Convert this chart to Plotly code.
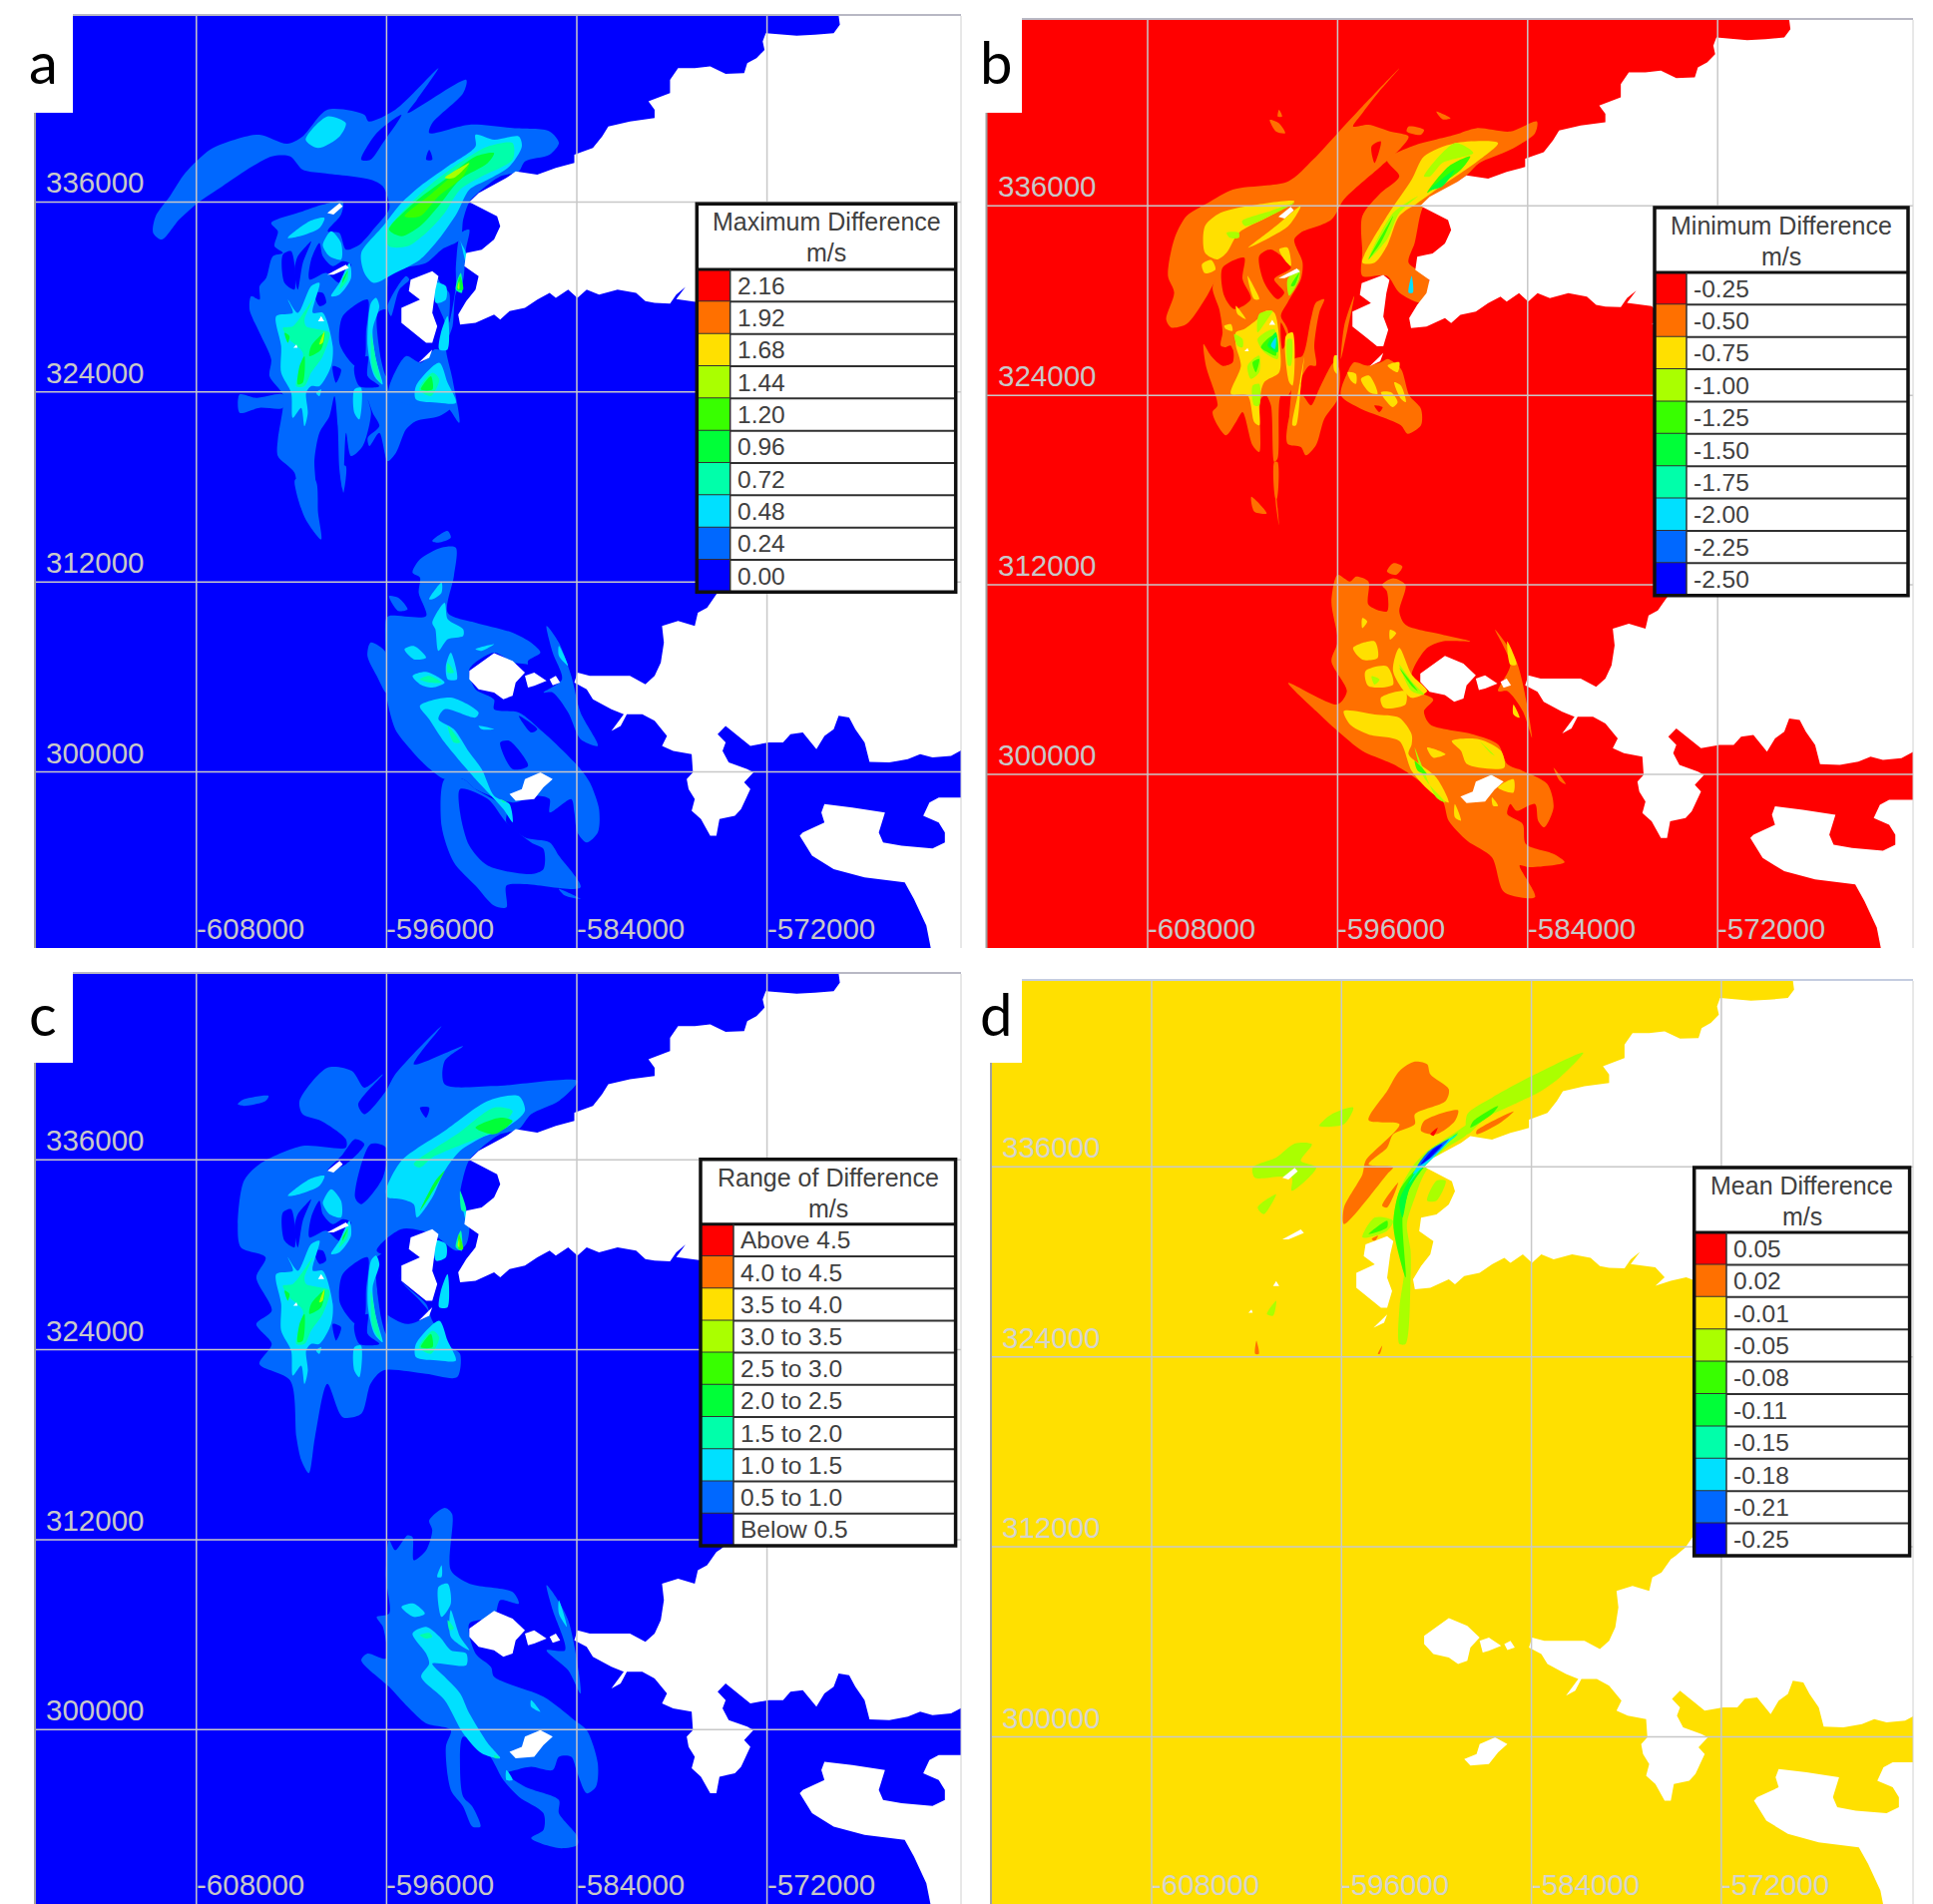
import plotly.graph_objects as go

W, H = 1937, 1908

# ---------------- legend content ----------------
RAMP = ["#ff0000", "#ff7000", "#ffe000", "#aaff00", "#38ff00", "#00ff38", "#00ffaa", "#00e0ff", "#0068ff", "#0000ff"]
LABELS_A = ["2.16", "1.92", "1.68", "1.44", "1.20", "0.96", "0.72", "0.48", "0.24", "0.00"]
LABELS_B = ["-0.25", "-0.50", "-0.75", "-1.00", "-1.25", "-1.50", "-1.75", "-2.00", "-2.25", "-2.50"]
LABELS_C = ["Above 4.5", "4.0 to 4.5", "3.5 to 4.0", "3.0 to 3.5", "2.5 to 3.0", "2.0 to 2.5", "1.5 to 2.0", "1.0 to 1.5", "0.5 to 1.0", "Below 0.5"]
LABELS_D = ["0.05", "0.02", "-0.01", "-0.05", "-0.08", "-0.11", "-0.15", "-0.18", "-0.21", "-0.25"]
EASTINGS = [-608000, -596000, -584000, -572000]
NORTHINGS = [336000, 324000, 312000, 300000]

# ---------------- digitised map outlines (digitiser units, georeferenced below) ----------------
LAND_N = [(1358,0),(1358,47),(1360,75),(1350,100),(1320,105),(1290,108),(1240,100),(1235,125),(1238,150),(1225,175),(1210,190),(1205,220),(1175,222),(1150,200),(1125,205),(1098,205),(1085,240),(1085,280),(1050,305),(1060,330),(1060,355),(1020,365),(985,380),(975,410),(960,445),(930,465),(930,490),(900,505),(870,525),(835,515),(820,535),(800,555),(775,580),(760,607),(785,630),(805,650),(810,680),(800,720),(780,750),(755,760),(752,800),(775,830),(770,870),(755,905),(742,945),(745,975),(770,970),(800,945),(810,960),(825,935),(850,925),(870,900),(890,880),(900,895),(920,870),(935,895),(950,870),(970,885),(1000,870),(1030,880),(1045,905),(1060,910),(1085,912),(1095,885),(1110,862),(1095,899),(1135,909),(1150,939),(1135,964),(1160,949),(1185,939),(1200,949),(1260,960),(1260,1700),(1195,1719),(1184,1749),(1168,1775)]
LAND_S = [(1160,345),(1145,385),(1130,400),(1125,440),(1098,425),(1072,440),(1075,490),(1070,550),(1060,590),(1045,615),(1020,590),(990,590),(955,590),(935,580),(930,610),(950,630),(960,660),(990,690),(1010,705),(990,755),(1005,740),(1015,705),(1040,705),(1060,725),(1080,770),(1072,800),(1090,815),(1120,825),(1122,880),(1112,900),(1115,930),(1125,960),(1120,995),(1135,1020),(1150,1070),(1160,1070),(1165,1020),(1190,1010),(1200,990),(1215,930),(1205,910),(1220,880),(1210,870),(1180,850),(1170,815),(1175,790),(1162,765),(1175,740),(1195,770),(1215,800),(1245,790),(1268,790),(1280,765),(1300,760),(1322,810),(1335,770),(1350,750),(1358,710),(1375,715),(1385,750),(1400,790),(1408,848),(1440,850),(1470,840),(1490,825),(1510,835),(1540,830),(1560,810),(1700,810)]
LAND_E_TOP = [(1700,0)]
LAND_SOUTH = [(1700,955),(1560,955),(1520,955),(1505,970),(1495,1010),(1520,1030),(1530,1060),(1530,1090),(1510,1108),(1460,1100),(1430,1090),(1423,1060),(1433,1000),(1380,985),(1335,975),(1330,1000),(1335,1030),(1300,1060),(1295,1070),(1315,1130),(1350,1170),(1400,1195),(1465,1210),(1480,1260),(1500,1340),(1515,1480),(1700,1480)]
ISLANDS_N = [
    [(700,815),(665,840),(662,875),(680,900),(650,925),(650,970),(670,1000),(690,1030),(700,1030),(708,980),(700,940),(705,870),(710,830)],
    [(678,1090),(700,1050),(695,1075)],
    [(530,640),(550,610),(555,620),(540,645)],
    [(530,825),(560,795),(565,805),(540,825)],
    [(515,965),(520,950),(525,965)],
    [(475,1045),(480,1035),(482,1045)],
]
ISLANDS_S = [
    [(800,522),(760,575),(760,600),(775,630),(800,640),(815,660),(830,650),(835,610),(850,580),(830,545)],
    [(855,625),(850,590),(865,580),(885,605),(865,620)],
    [(895,618),(890,600),(900,590),(907,610)],
    [(875,880),(850,900),(845,930),(825,945),(835,965),(865,960),(880,925),(895,900)],
]

# fine digitising of the western group, panel a (separate digitiser sheet)
A_W_BODY = [
 (1,[(95,70),(190,35),(250,15),(310,5),(305,45),(265,95),(300,100),(320,150),(370,130),(440,70),(445,230),(440,340),(445,560),(450,575),(560,575),(620,575),(650,610),(600,650),(530,665),(500,690),(470,760),(445,785),(420,700),(390,740),(385,715),(420,680),(400,640),(385,600),(395,640),(370,740),(335,770),(320,700),(310,870),(300,810),(295,680),(285,590),(270,650),(240,700),(225,780),(225,900),(180,900),(165,820),(115,770),(115,720),(130,625),(130,585),(90,530),(95,480),(60,400),(30,330),(35,290),(60,300),(60,260),(80,235),(100,170),(130,160),(105,140),(115,95)]),
 (1,[(0,585),(50,595),(130,585),(130,625),(60,625),(0,640)]),
 (1,[(450,560),(500,470),(545,490),(585,450),(610,450),(620,380),(610,350),(590,300),(585,220),(610,260),(630,280),(630,370),(650,260),(650,200),(665,100),(690,90),(680,150),(670,250),(650,280),(640,380),(620,440),(640,540),(660,670),(620,620),(530,620),(450,590)]),
 (1,[(500,230),(445,320),(455,350),(480,270),(510,240)]),
]
W_HOLES = [
 (0,[(130,165),(155,155),(165,270),(135,250)]),
 (0,[(175,170),(200,140),(215,125),(190,190),(175,270),(165,210)]),
 (0,[(215,180),(240,130),(250,170),(280,200),(310,185),(335,195),(300,250),(260,220),(210,240)]),
 (0,[(225,280),(250,280),(260,310),(240,320)]),
 (0,[(310,350),(385,300),(380,400),(375,480),(350,500),(320,470),(300,430)]),
 (0,[(415,340),(440,330),(440,530),(425,480)]),
 (0,[(280,500),(305,510),(290,550)]),
 (0,[(345,500),(385,470),(385,530),(420,560),(360,560)]),
]
W_STREAKS = [
 (2,[(145,115),(210,65),(255,55),(240,85),(180,110)]),
 (2,[(250,135),(275,95),(305,130),(305,180),(270,170),(255,150)]),
 (2,[(110,350),(160,340),(145,300),(175,340),(215,260),(240,250),(220,340),(250,340),(280,440),(275,500),(240,560),(215,560),(200,580),(205,640),(195,680),(185,625),(160,655),(155,580),(125,520),(125,440)]),
 (2,[(395,310),(410,295),(420,320),(400,390),(410,480),(430,555),(405,530),(385,440)]),
 (2,[(345,570),(365,565),(360,660),(345,640)]),
 (2,[(230,580),(245,570),(240,590)]),
 (2,[(300,250),(330,190),(335,235),(300,285),(275,290)]),
 (2,[(530,560),(600,490),(625,550),(650,610),(600,610),(530,600)]),
 (2,[(660,120),(680,160),(680,190),(665,130)]),
 (2,[(590,250),(620,260),(620,300),(590,310)]),
 (2,[(605,400),(625,350),(625,450),(600,450)]),
 (3,[(130,385),(160,380),(220,300),(195,360),(200,380),(240,390),(270,400),(250,470),(215,520),(195,560),(170,560),(190,460),(150,420)]),
 (3,[(540,570),(580,520),(600,540),(575,590)]),
 (3,[(305,250),(325,210),(325,240),(300,270)]),
 (3,[(395,400),(410,480),(425,550),(400,510)]),
 (3,[(655,240),(665,220),(668,280),(650,270)]),
 (4,[(180,500),(195,470),(190,550),(175,555)]),
 (4,[(215,440),(255,400),(245,450),(210,470)]),
 (4,[(135,400),(150,410),(145,430)]),
 (4,[(310,240),(325,215),(310,250)]),
 (4,[(545,570),(575,530),(580,570)]),
 (6,[(240,435),(255,395),(250,430)]),
 (6,[(655,265),(660,245),(660,270)]),
]
# fine digitising of the western group, panel b (separate digitiser sheet)
B_W = [
 (1,[(48,435),(70,470),(105,500),(135,490),(135,450),(100,440),(105,400),(95,330),(75,265),(100,210),(130,180),(175,160),(240,130),(350,90),(320,120),(345,190),(340,240),(300,310),(280,350),(300,390),(315,560),(300,590),(280,590),(270,780),(260,790),(250,620),(235,590),(220,600),(215,760),(195,740),(165,640),(145,670),(115,710),(90,680),(75,640),(90,620),(55,500)]),
 (1,[(310,590),(320,480),(345,470),(370,360),(385,310),(410,300),(395,340),(380,440),(385,500),(365,500),(340,540),(330,600),(305,680)]),
 (1,[(300,680),(330,590),(345,590),(370,620),(395,570),(440,490),(455,510),(450,600),(410,660),(385,740),(355,770),(340,745),(300,735)]),
 (1,[(260,790),(270,790),(268,900),(264,900)]),
 (1,[(460,590),(480,520),(500,490),(540,500),(580,490),(600,480),(640,510),(665,590),(700,630),(700,680),(660,705),(640,680),(570,650),(520,630)]),
 (1,[(460,480),(470,380),(500,290),(480,390)]),
 (0,[(105,205),(170,175),(165,240),(190,300),(140,330),(110,290)]),
 (0,[(215,170),(250,150),(310,205),(260,240),(290,280),(270,300),(230,250)]),
 (0,[(90,465),(130,440),(135,490),(105,500)]),
 (0,[(280,370),(300,420),(285,450)]),
 (0,[(560,620),(585,625),(575,640)]),
 (2,[(145,320),(175,360),(150,345)]),
 (2,[(110,380),(130,375),(135,395),(115,390)]),
 (2,[(180,230),(200,265),(215,300),(200,300)]),
 (2,[(275,150),(300,145),(310,200),(290,180)]),
 (2,[(130,585),(160,500),(145,440),(145,400),(170,390),(210,360),(235,335),(260,340),(275,420),(275,520),(230,550),(215,610),(215,680),(200,670),(180,590)]),
 (2,[(295,410),(315,400),(315,560),(305,550)]),
 (2,[(315,680),(330,590),(350,475),(340,560),(325,680)]),
 (2,[(440,470),(450,470),(450,525),(440,515)]),
 (2,[(480,520),(505,525),(505,555),(490,545)]),
 (2,[(520,540),(545,530),(570,585),(545,580)]),
 (2,[(580,580),(610,580),(630,610),(615,625)]),
 (2,[(620,550),(640,560),(655,610),(640,600)]),
 (2,[(600,500),(635,490),(630,520)]),
 (3,[(140,405),(165,420),(165,445),(150,440)]),
 (3,[(215,345),(255,335),(240,360),(210,400)]),
 (3,[(210,420),(260,390),(270,480),(230,460)]),
 (3,[(180,500),(215,470),(215,520),(190,540)]),
 (3,[(195,560),(215,555),(215,620),(200,620)]),
 (3,[(300,420),(312,420),(310,500),(302,500)]),
 (3,[(300,240),(335,210),(335,240),(305,290)]),
 (4,[(220,445),(255,410),(265,470),(240,460)]),
 (4,[(195,490),(215,480),(205,520)]),
 (4,[(310,260),(335,220),(320,260)]),
 (5,[(240,440),(265,400),(270,460)]),
 (7,[(250,440),(265,415),(262,450)]),
]

# contour patches: (step away from the panel's base colour, outline). Step 0 = base colour holes.
A_N = [
 (1,[(248,700),(252,650),(275,590),(300,520),(340,450),(380,420),(420,405),(465,432),(490,410),(530,330),(590,345),(597,365),(640,330),(710,205),(675,300),(660,340),(755,240),(750,280),(700,370),(695,400),(760,375),(830,385),(890,395),(905,430),(890,465),(850,485),(840,515),(810,530),(780,570),(760,607),(750,660),(745,720),(715,750),(690,790),(640,810),(600,850),(585,830),(575,760),(600,700),(630,630),(630,607),(620,560),(600,540),(520,520),(490,510),(470,470),(440,470),(400,510),(360,560),(320,610),(290,660),(262,720)]),
 (0,[(585,480),(610,400),(650,345),(620,430),(600,480)]),
 (0,[(690,480),(695,450),(700,480)]),
 (1,[(478,1440),(510,1440),(515,1540),(520,1620),(495,1560),(480,1480)]),
 (1,[(552,1400),(560,1400),(556,1480)]),
 (2,[(585,760),(620,680),(650,610),(680,560),(725,500),(770,440),(770,405),(800,420),(840,410),(845,440),(825,500),(790,540),(760,570),(740,640),(710,720),(680,780),(640,820),(605,850),(590,820)]),
 (2,[(495,420),(530,350),(560,370),(550,410),(515,445)]),
 (3,[(625,700),(660,620),(700,550),(760,470),(790,440),(830,430),(830,480),(780,530),(745,570),(720,640),(690,700),(660,740),(630,740)]),
 (4,[(630,690),(670,610),(720,540),(770,470),(800,460),(790,490),(745,540),(710,620),(680,680),(650,710)]),
 (4,[(740,870),(745,830),(750,870)]),
 (5,[(655,650),(700,580),(760,490),(750,530),(710,590),(680,650)]),
 (6,[(720,535),(760,490),(735,535)]),
]
A_S = [
 (1,[(700,185),(725,155),(730,175),(710,190)]),
 (1,[(630,410),(690,410),(678,340),(680,295),(668,280),(680,240),(715,205),(738,205),(735,290),(725,400),(770,430),(830,460),(860,490),(875,520),(855,545),(855,570),(830,550),(800,520),(760,570),(770,630),(800,660),(800,690),(840,700),(880,760),(920,830),(940,870),(955,910),(970,990),(968,1060),(950,1090),(935,1060),(930,1000),(925,960),(890,1000),(890,960),(870,950),(830,970),(770,930),(750,900),(720,900),(690,860),(660,800),(640,750),(625,640),(625,560),(625,420)]),
 (1,[(720,900),(715,1040),(735,1150),(770,1220),(800,1280),(820,1285),(820,1220),(850,1215),(940,1225),(905,1130),(890,1090),(850,1075),(820,1030),(820,990),(770,930),(750,900)]),
 (0,[(745,930),(790,960),(820,1030),(860,1090),(880,1110),(880,1170),(860,1185),(790,1160),(760,1100),(745,1000)]),
 (1,[(600,490),(625,520),(625,640),(610,590),(595,530)]),
 (1,[(630,350),(645,355),(660,390),(645,395)]),
 (1,[(885,440),(905,490),(925,590),(940,700),(968,800),(940,780),(920,700),(895,640),(880,640),(910,600),(895,520)]),
 (1,[(905,1230),(940,1260),(915,1250)]),
 (0,[(810,790),(825,785),(855,860),(830,870)]),
 (0,[(840,710),(870,750),(860,760)]),
 (0,[(800,560),(860,560),(880,640),(900,700),(880,720),(830,690),(800,660),(775,620)]),
 (2,[(695,360),(715,310),(715,340),(700,360)]),
 (2,[(700,430),(720,370),(725,420),(750,450),(750,470),(725,480),(710,515),(705,450)]),
 (2,[(655,510),(670,500),(690,535),(670,540)]),
 (2,[(668,590),(690,578),(720,610),(700,625),(680,615)]),
 (2,[(680,680),(730,655),(775,700),(770,715),(720,690),(710,720),(735,750),(760,820),(780,870),(800,950),(825,975),(830,1030),(815,990),(770,900),(720,790),(695,720)]),
 (2,[(730,520),(740,600),(725,600),(722,560)]),
 (2,[(775,740),(800,750),(780,750)]),
 (2,[(770,510),(800,495),(780,515)]),
 (2,[(905,500),(920,560),(905,530)]),
 (3,[(680,600),(695,590),(715,610),(695,610)]),
 (3,[(725,550),(735,580),(725,580)]),
 (3,[(725,740),(745,790),(735,790)]),
 (3,[(810,960),(820,970),(815,970)]),
]
C_N = [
 (1,[(385,440),(395,425),(435,415),(430,430),(395,445)]),
 (1,[(485,430),(530,330),(570,340),(590,390),(620,350),(580,440),(590,470),(625,400),(640,350),(715,205),(670,320),(750,265),(720,310),(720,380),(800,385),(935,370),(905,430),(860,470),(840,515),(810,530),(780,570),(760,607),(750,660),(745,720),(760,800),(755,860),(740,880),(700,830),(650,815),(610,880),(640,910),(650,970),(690,1040),(700,1090),(730,1170),(745,1190),(740,1260),(690,1250),(620,1240),(600,1280),(585,1370),(555,1380),(530,1280),(510,1440),(500,1548),(488,1510),(480,1440),(470,1270),(420,1220),(440,1160),(415,1100),(440,1060),(415,960),(430,900),(390,870),(385,800),(395,670),(420,620),(490,565),(560,570),(560,545),(520,490),(490,470)]),
 (0,[(555,590),(575,545),(590,560),(560,620),(530,640)]),
 (0,[(600,560),(625,570),(620,660),(585,740),(575,720)]),
 (0,[(610,900),(640,880),(650,970),(680,1030),(695,1070),(660,1100),(620,1060),(610,980)]),
 (0,[(680,450),(695,450),(690,480)]),
 (2,[(625,700),(650,610),(720,520),(790,430),(840,415),(850,460),(820,510),(780,540),(745,580),(720,640),(700,720),(675,780),(670,740),(650,725),(628,720)]),
 (3,[(670,620),(740,530),(800,450),(830,460),(800,520),(750,560),(700,600),(680,630)]),
 (3,[(745,700),(755,760),(748,760)]),
 (4,[(770,510),(810,480),(830,490),(800,530)]),
 (4,[(680,760),(705,670),(720,640),(695,720)]),
 (5,[(743,875),(743,830),(750,875)]),
]
C_S = [
 (1,[(630,310),(640,340),(660,295),(668,300),(670,370),(690,340),(700,280),(695,250),(720,212),(732,230),(730,400),(760,440),(830,465),(840,500),(810,490),(800,540),(760,560),(770,650),(795,690),(800,720),(880,780),(930,850),(950,880),(968,980),(965,1050),(950,1070),(935,1010),(925,960),(905,960),(895,1000),(860,990),(835,1000),(820,1010),(850,1050),(905,1090),(905,1130),(935,1200),(935,1225),(905,1235),(860,1205),(880,1180),(880,1130),(840,1080),(815,1030),(790,950),(750,900),(745,1000),(750,1080),(765,1110),(778,1170),(765,1170),(750,1110),(730,1060),(722,930),(730,880),(690,860),(660,810),(630,750),(585,670),(595,650),(625,665),(620,570),(610,540),(630,530),(625,420)]),
 (1,[(885,445),(900,480),(920,550),(935,680),(940,770),(920,700),(885,640),(915,640),(895,520)]),
 (0,[(800,560),(860,560),(880,640),(900,720),(880,760),(830,740),(800,700),(775,630)]),
 (2,[(708,420),(715,385),(715,420)]),
 (2,[(650,510),(670,500),(688,530),(670,540)]),
 (2,[(668,590),(690,570),(712,600),(730,640),(755,650),(755,685),(700,680),(720,720),(745,770),(760,830),(790,920),(810,965),(780,950),(750,890),(720,790),(682,720),(695,680),(690,650)]),
 (2,[(710,450),(725,440),(730,500),(715,540)]),
 (2,[(730,520),(745,600),(760,640),(730,600)]),
 (2,[(860,790),(875,825),(860,810)]),
 (2,[(820,1000),(830,1030),(820,1030)]),
 (2,[(905,490),(918,570),(905,530)]),
 (3,[(680,595),(695,588),(700,600),(690,605)]),
 (3,[(725,550),(735,575),(728,580)]),
 (3,[(800,955),(810,962),(802,965)]),
]
B_N = [
 (1,[(700,205),(665,280),(640,340),(625,380),(650,375),(685,395),(715,410),(700,450),(670,500),(610,600),(590,660),(520,710),(450,770),(420,800),(400,850),(385,900),(355,975),(330,985),(322,960),(335,880),(325,830),(335,720),(355,650),(390,610),(430,570),(520,545),(560,480),(600,400),(640,320)]),
 (0,[(655,440),(670,425),(660,490)]),
 (1,[(490,360),(505,370),(515,400),(500,395)]),
 (1,[(505,330),(510,350),(503,350)]),
 (1,[(760,335),(783,355),(770,358)]),
 (1,[(715,380),(740,390),(735,405),(712,395)]),
 (1,[(680,480),(720,440),(790,405),(825,385),(880,395),(923,365),(920,400),(880,450),(830,490),(810,525),(775,570),(745,600),(735,640),(725,730),(715,790),(745,830),(750,870),(735,910),(700,880),(680,830),(640,830),(640,760),(640,650),(670,580),(700,530)]),
 (2,[(385,680),(410,640),(470,615),(530,605),(490,650),(440,700),(420,760),(405,780),(385,760)]),
 (2,[(380,795),(395,782),(402,810),(385,822)]),
 (2,[(455,745),(500,680),(540,620),(520,680)]),
 (2,[(640,790),(680,650),(720,540),(740,470),(790,430),(860,430),(830,480),(800,520),(760,570),(730,610),(700,650),(680,740),(660,790)]),
 (3,[(445,665),(490,635),(530,610),(490,650),(450,680)]),
 (3,[(420,700),(440,700),(440,715),(425,715)]),
 (3,[(650,780),(690,640),(730,590),(700,640),(680,720)]),
 (3,[(740,530),(790,430),(820,460),(770,490),(750,530)]),
 (4,[(745,580),(780,500),(815,470),(800,510),(770,550)]),
 (4,[(650,780),(690,650),(670,730)]),
 (5,[(750,570),(790,510),(770,560)]),
 (7,[(715,880),(720,830),(722,880)]),
]
B_S = [
 (1,[(600,290),(620,310),(630,295),(650,310),(650,380),(680,400),(680,340),(672,320),(690,300),(710,320),(700,400),(710,440),(770,470),(815,490),(770,490),(745,510),(720,590),(730,640),(755,665),(740,700),(750,740),(820,770),(860,800),(875,860),(900,880),(940,920),(950,990),(935,1050),(925,1030),(920,980),(890,1000),(880,980),(875,1010),(900,1040),(905,1100),(950,1130),(968,1155),(910,1170),(895,1165),(920,1260),(870,1245),(850,1140),(810,1090),(780,1030),(770,970),(725,900),(690,860),(640,820),(600,760),(565,700),(520,615),(600,680),(615,640),(590,550),(600,490),(590,370)]),
 (1,[(690,255),(705,265),(695,290),(680,280)]),
 (1,[(460,55),(485,105),(465,100)]),
 (1,[(498,0),(505,140),(500,80)]),
 (1,[(855,455),(890,550),(915,780),(900,700),(875,640),(860,640),(880,560)]),
 (1,[(950,870),(970,920),(960,910)]),
 (2,[(610,700),(660,710),(700,720),(720,770),(720,800),(715,830),(760,900),(780,975),(755,950),(720,880),(700,790),(650,770),(620,740)]),
 (2,[(625,510),(660,490),(665,540),(640,545)]),
 (2,[(645,580),(680,565),(690,620),(650,625)]),
 (2,[(670,660),(710,640),(710,680),(675,690)]),
 (2,[(700,510),(720,590),(745,640),(720,660),(690,580)]),
 (2,[(785,790),(830,785),(865,820),(870,870),(810,860),(800,820)]),
 (2,[(745,810),(775,830),(755,840)]),
 (2,[(640,420),(648,430),(640,450)]),
 (2,[(685,455),(695,465),(685,485)]),
 (2,[(860,930),(885,905),(885,945)]),
 (2,[(850,960),(860,985),(852,985)]),
 (2,[(790,980),(800,1030),(790,1020)]),
 (2,[(885,680),(895,720),(885,710)]),
 (2,[(875,490),(890,560),(880,560)]),
 (3,[(700,560),(720,610),(740,650),(720,640)]),
 (3,[(725,810),(760,960),(775,975),(740,900)]),
 (3,[(830,790),(855,835),(850,830)]),
 (3,[(655,595),(668,605),(660,620)]),
 (4,[(700,570),(730,640),(720,625)]),
 (4,[(725,850),(745,890),(730,880)]),
]
D_N = [
 (1,[(725,312),(745,320),(750,350),(780,395),(775,430),(725,470),(725,500),(690,530),(680,570),(650,620),(690,628),(680,650),(610,800),(610,750),(640,650),(645,610),(700,500),(650,488),(680,400),(700,340)]),
 (1,[(740,490),(795,458),(790,490),(760,530),(735,520)]),
 (1,[(825,520),(885,462),(860,500),(825,530)]),
 (1,[(672,745),(698,675),(680,750)]),
 (1,[(655,845),(665,835),(660,850)]),
 (1,[(468,1150),(472,1190),(466,1190)]),
 (1,[(665,1190),(672,1165),(668,1190)]),
 (2,[(750,530),(762,510),(755,535)]),
 (3,[(810,470),(850,420),(920,350),(998,285),(960,360),(930,400),(880,445),(840,480),(810,530)]),
 (3,[(570,505),(590,470),(625,450),(610,500)]),
 (3,[(462,630),(500,600),(530,558),(558,560),(540,610),(565,630),(525,700),(525,660),(465,660)]),
 (3,[(470,750),(500,710),(480,770)]),
 (3,[(485,1070),(500,1030),(495,1075)]),
 (3,[(700,1160),(700,1050),(708,920),(690,800),(700,700),(720,630),(745,580),(790,525),(820,490),(810,530),(770,580),(740,650),(725,720),(712,800),(718,880),(718,960),(710,1160)]),
 (3,[(760,670),(775,670),(760,730),(745,730)]),
 (3,[(640,840),(660,780),(690,790),(680,820)]),
 (4,[(820,490),(860,445),(850,470),(815,510)]),
 (4,[(690,800),(700,700),(725,640),(715,700),(705,780),(710,960),(700,900)]),
 (4,[(650,830),(680,790),(680,810)]),
 (5,[(700,730),(725,640),(740,600),(780,545),(795,525),(770,570),(735,640),(715,700),(705,780)]),
 (6,[(715,680),(735,620),(775,550),(795,530),(745,610)]),
 (7,[(722,650),(740,600),(785,540),(750,610)]),
 (8,[(728,630),(745,585),(780,545),(755,595)]),
 (9,[(735,620),(755,575),(770,560),(750,600)]),
]

def low(pts):
    return [(x, y + 1440) for x, y in pts]
def sheet_a(items):
    return [(k, [((240 + x / 3) * 1.6165, (200 + y / 3) * 3) for x, y in pts]) for k, pts in items]
def sheet_b(items):
    return [(k, [((220 + x / 3) * 1.6215, (200 + y / 3) * 3) for x, y in pts]) for k, pts in items]

LAND = [LAND_N + low(LAND_S) + LAND_E_TOP, low(LAND_SOUTH)] + ISLANDS_N + [low(p) for p in ISLANDS_S]

# ---------- panels: pixel placement of the frame and graticule ----------
PANELS = [
 dict(name="a", left=35, right=963, top=16, bottom=950, gx=196.8, gy=202.4, sx=190.6, sy=190.4, ox=318, oy=607, rows=[9,8,7,6,5,4,3,2,1,0], polys=A_N+[(k,low(p)) for k,p in A_S]+sheet_a(A_W_BODY+W_HOLES+W_STREAKS), title="Maximum Difference", labels=LABELS_A, leg=(698.3,957.7,204.3,270,593.3), sw=731.7, box=(0,73,0,113), letter=(27,"a",98), tick="#c8c8c8", style="#b8b8c4"),
 dict(name="b", left=988.5, right=1917, top=20, bottom=950, gx=1150, gy=206.3, sx=190.4, sy=189.9, ox=292, oy=619, rows=[0,1,2,3,4,5,6,7,8,9], polys=B_N+[(k,low(p)) for k,p in B_S]+sheet_b(B_W), title="Minimum Difference", labels=LABELS_B, leg=(1658,1912,208,273,596.7), sw=1690, box=(970,1024,0,113), letter=(980,"b",98), tick="#c8c8c8", style="#b8b8c4"),
 dict(name="c", left=35, right=963, top=976, bottom=1908, gx=196.8, gy=1162.3, sx=190.6, sy=190.3, ox=318, oy=607, rows=[9,8,7,6,5,4,3,2,1,0], polys=C_N+[(k,low(p)) for k,p in C_S]+sheet_a(W_HOLES+W_STREAKS), title="Range of Difference", labels=LABELS_C, leg=(702,957.6,1161.7,1226.7,1549), sw=735, box=(0,73,960,1065), letter=(27,"c",1052), tick="#c8c8c8", style="#b8b8c4"),
 dict(name="d", left=993, right=1917, top=983, bottom=1908, gx=1154, gy=1169.3, sx=190.3, sy=190.4, ox=298, oy=628, rows=[2,1,0,3,4,5,6,7,8,9], polys=D_N, title="Mean Difference", labels=LABELS_D, leg=(1697.7,1913.6,1170,1235,1559), sw=1730, box=(970,1024,960,1065), letter=(980,"d",1052), tick="#d4d4cc", style="#c4cce0"),
]

def georef(pts, ox, oy):
    return ([EASTINGS[0] + (x - ox) * 12000 / 308 for x, y in pts],
            [NORTHINGS[0] - (y - oy) * 12000 / 570.5 for x, y in pts])

fig = go.Figure()
layout = dict(width=W, height=H, margin=dict(l=0, r=0, t=0, b=0), paper_bgcolor="white", plot_bgcolor="white",
              showlegend=False, shapes=[], annotations=[])
TXT = "Liberation Sans"
def px(v): return v / W
def py(v): return 1 - v / H
def rect(x0, x1, y0, y1, fill=None, lc=None, lw=0):
    layout["shapes"].append(dict(type="rect", xref="paper", yref="paper", x0=px(x0), x1=px(x1), y0=py(y0), y1=py(y1),
                                 fillcolor=fill or "rgba(0,0,0,0)", line=dict(color=lc or "rgba(0,0,0,0)", width=lw), layer="above"))
def hline(x0, x1, y, c, w):
    layout["shapes"].append(dict(type="line", xref="paper", yref="paper", x0=px(x0), x1=px(x1), y0=py(y), y1=py(y), line=dict(color=c, width=w), layer="above"))
def vline(x, y0, y1, c, w):
    layout["shapes"].append(dict(type="line", xref="paper", yref="paper", x0=px(x), x1=px(x), y0=py(y0), y1=py(y1), line=dict(color=c, width=w), layer="above"))

for i, p in enumerate(PANELS):
    sfx = "" if i == 0 else str(i + 1)
    xa, ya = "x" + sfx, "y" + sfx
    e_of = lambda v: EASTINGS[0] + (v - p["gx"]) * 12000 / p["sx"]
    n_of = lambda v: NORTHINGS[0] - (v - p["gy"]) * 12000 / p["sy"]
    xr = [e_of(p["left"]), e_of(p["right"])]
    yr = [n_of(p["bottom"]), n_of(p["top"])]
    layout["xaxis" + sfx] = dict(domain=[px(p["left"]), px(p["right"])], range=xr, visible=False, anchor=ya, fixedrange=True)
    layout["yaxis" + sfx] = dict(domain=[py(p["bottom"]), py(p["top"])], range=yr, visible=False, anchor=xa, fixedrange=True)
    def poly(xs, ys, color, smooth=False):
        line = dict(width=0, color=color)
        if smooth:
            line.update(shape="spline", smoothing=0.8)
        fig.add_trace(go.Scatter(x=xs + xs[:1], y=ys + ys[:1], xaxis=xa, yaxis=ya, mode="lines", fill="toself", fillcolor=color,
                                 line=line, hoverinfo="skip"))
    rows = p["rows"]
    base = RAMP[rows[0]]
    poly([xr[0], xr[1], xr[1], xr[0]], [yr[0], yr[0], yr[1], yr[1]], base)
    order = sorted(p["polys"], key=lambda kp: 1.5 if kp[0] == 0 else kp[0])
    for k, pts in order:
        xs, ys = georef(pts, p["ox"], p["oy"])
        poly(xs, ys, RAMP[rows[k]], smooth=True)
    for pts in LAND:
        xs, ys = georef(pts, 318, 607)
        poly(xs, ys, "white")
    # graticule
    for e in EASTINGS:
        layout["shapes"].append(dict(type="line", xref=xa, yref=ya, x0=e, x1=e, y0=yr[0], y1=yr[1], line=dict(color="#c8c8c8", width=1.5), layer="above"))
    for n in NORTHINGS:
        layout["shapes"].append(dict(type="line", xref=xa, yref=ya, x0=xr[0], x1=xr[1], y0=n, y1=n, line=dict(color="#c8c8c8", width=1.5), layer="above"))
    for n in NORTHINGS:
        layout["annotations"].append(dict(text=str(n), xref=xa, yref=ya, x=xr[0], y=n, xanchor="left", yanchor="bottom", xshift=9, yshift=1,
                                          showarrow=False, font=dict(family=TXT, size=29.5, color=p["tick"])))
    for e in EASTINGS:
        layout["annotations"].append(dict(text=str(e), xref=xa, yref=ya, x=e, y=yr[0], xanchor="left", yanchor="bottom", xshift=-2, yshift=1,
                                          showarrow=False, font=dict(family=TXT, size=29.5, color=p["tick"])))
    # frame
    hline(p["left"] + 30, p["right"], p["top"] - 1, p["style"], 2)
    vline(p["left"], p["top"], p["bottom"], "#a0a0a0", 2)
    vline(p["right"], p["top"], p["bottom"], "#d0d0d0", 1)
    # letter box
    bx = p["box"]
    rect(bx[0], bx[1], bx[2], bx[3], fill="white")
    lx, ch, ly = p["letter"]
    layout["annotations"].append(dict(text=ch, xref="paper", yref="paper", x=px(lx), y=py(ly), xanchor="left", yanchor="bottom",
                                      showarrow=False, xshift=0, font=dict(family="Lato", size=58, color="black")))
    # legend table
    L, R, T, TB, B = p["leg"]
    rect(L, R, T, B, fill="white")
    rh = (B - TB) / 10
    for r, lab in enumerate(p["labels"]):
        y0 = TB + r * rh
        rect(L, p["sw"], y0, y0 + rh, fill=RAMP[r])
        hline(L, R, y0 + rh, "#303030", 2)
        layout["annotations"].append(dict(text=lab, xref="paper", yref="paper", x=px(p["sw"] + 5), y=py(y0 + rh / 2), xanchor="left", yanchor="middle",
                                          showarrow=False, font=dict(family=TXT, size=24.5, color="#404040")))
    hline(L, R, TB, "#101010", 3)
    vline(p["sw"], TB, B, "#303030", 1.5)
    rect(L, R, T, B, lc="#101010", lw=3.5)
    cx = (L + R) / 2
    layout["annotations"].append(dict(text=p["title"], xref="paper", yref="paper", x=px(cx), y=py(T + 18), xanchor="center", yanchor="middle",
                                      showarrow=False, font=dict(family=TXT, size=25, color="#404040")))
    layout["annotations"].append(dict(text="m/s", xref="paper", yref="paper", x=px(cx), y=py(T + 49), xanchor="center", yanchor="middle",
                                      showarrow=False, font=dict(family=TXT, size=25, color="#404040")))

fig.update_layout(**layout)
fig.write_html("out.html", config={"displayModeBar": False}, post_script="document.body.style.margin='0';document.body.style.overflow='hidden';")
